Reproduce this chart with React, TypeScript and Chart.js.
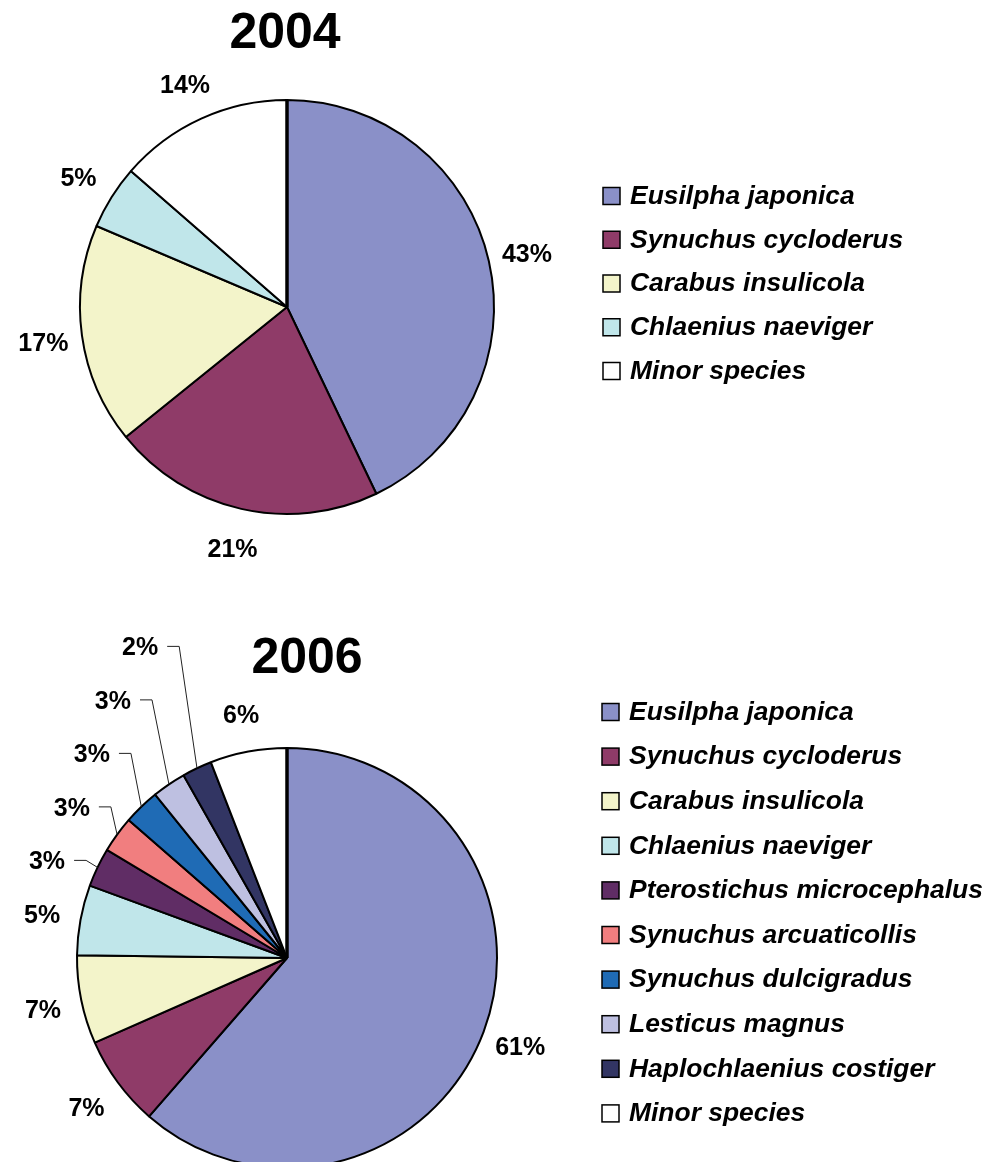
import React, { useEffect, useRef } from "react";
import { Chart, registerables } from "chart.js";

Chart.register(...registerables);

// ---------- data ----------
const title2004 = "2004";
const species2004 = [
  "Eusilpha japonica",
  "Synuchus cycloderus",
  "Carabus insulicola",
  "Chlaenius naeviger",
  "Minor species",
];
const values2004 = [42.9, 21.3, 17.2, 5.0, 13.6];
const colors2004 = ["#8A90C8", "#8F3B68", "#F3F4CA", "#C0E6EA", "#FFFFFF"];

const title2006 = "2006";
const species2006 = [
  "Eusilpha japonica",
  "Synuchus cycloderus",
  "Carabus insulicola",
  "Chlaenius naeviger",
  "Pterostichus microcephalus",
  "Synuchus arcuaticollis",
  "Synuchus dulcigradus",
  "Lesticus magnus",
  "Haplochlaenius costiger",
  "Minor species",
];
const values2006 = [61.4, 7.0, 6.8, 5.4, 3.0, 2.8, 2.8, 2.6, 2.3, 5.9];
const colors2006 = [
  "#8A90C8",
  "#8F3B68",
  "#F3F4CA",
  "#C0E6EA",
  "#602D65",
  "#F17E7F",
  "#1F6BB5",
  "#BEC0E1",
  "#323563",
  "#FFFFFF",
];

const FONT = "'Liberation Sans', Arial, Helvetica, sans-serif";

type DecorCfg = {
  title: string;
  titleX: number;
  titleY: number;
  legendX: number;
  legendY: number;
  legendStep: number;
  labelGap: number;
  leaderGap: number;
  leaderThreshold: number;
  stackStep: number;
};

function makeDecor(cfg: DecorCfg) {
  return {
    id: "pieDecor",
    afterDraw(chart: any) {
      const ctx: CanvasRenderingContext2D = chart.ctx;
      const meta = chart.getDatasetMeta(0);
      const ds = chart.data.datasets[0];
      const data = ds.data as number[];
      const colors = ds.backgroundColor as string[];
      const labels = chart.data.labels as string[];
      const total = data.reduce((a, b) => a + b, 0);
      ctx.save();

      // heavier radius line at the start of the first slice
      const first = meta.data[0].getProps(["x", "y", "startAngle", "outerRadius"], true);
      ctx.strokeStyle = "#000";
      ctx.lineWidth = 3.5;
      ctx.beginPath();
      ctx.moveTo(first.x, first.y);
      ctx.lineTo(
        first.x + Math.cos(first.startAngle) * first.outerRadius,
        first.y + Math.sin(first.startAngle) * first.outerRadius
      );
      ctx.stroke();

      // title
      ctx.fillStyle = "#000";
      ctx.textAlign = "center";
      ctx.textBaseline = "middle";
      ctx.font = `bold 50px ${FONT}`;
      ctx.fillText(cfg.title, cfg.titleX, cfg.titleY);

      // percentage labels
      ctx.font = `bold 25px ${FONT}`;
      let prevY: number | null = null;
      meta.data.forEach((arc: any, i: number) => {
        const p = arc.getProps(["x", "y", "startAngle", "endAngle", "outerRadius"], true);
        const mid = (p.startAngle + p.endAngle) / 2;
        const share = data[i] / total;
        const text = Math.round(share * 100) + "%";
        ctx.fillStyle = "#000";
        ctx.textAlign = "center";
        if (share >= cfg.leaderThreshold) {
          const r = p.outerRadius + cfg.labelGap;
          const lx = p.x + Math.cos(mid) * r;
          const ly = p.y + Math.sin(mid) * r + 3;
          ctx.fillText(text, lx, ly);
          prevY = ly;
        } else {
          const r = p.outerRadius + cfg.leaderGap;
          const nx = p.x + Math.cos(mid) * r;
          const ny = p.y + Math.sin(mid) * r;
          const ly = prevY === null ? ny : prevY - cfg.stackStep;
          prevY = ly;
          const rr = (ly - p.y) / Math.sin(mid);
          const rx = p.x + Math.cos(mid) * rr;
          const lx = Math.cos(mid) < 0 ? Math.min(nx, rx) : Math.max(nx, rx);
          ctx.fillText(text, lx, ly);
          const w = ctx.measureText(text).width;
          const sx = lx + w / 2 + 9;
          ctx.strokeStyle = "#222";
          ctx.lineWidth = 1;
          ctx.beginPath();
          ctx.moveTo(sx, ly - 2);
          ctx.lineTo(sx + 12, ly - 2);
          ctx.lineTo(p.x + Math.cos(mid) * p.outerRadius, p.y + Math.sin(mid) * p.outerRadius);
          ctx.stroke();
        }
      });

      // legend
      ctx.font = `italic bold 25px ${FONT}`;
      ctx.textAlign = "left";
      labels.forEach((lab, i) => {
        const cy = cfg.legendY + i * cfg.legendStep;
        ctx.fillStyle = colors[i];
        ctx.fillRect(cfg.legendX, cy - 8.5, 17, 17);
        ctx.strokeStyle = "#000";
        ctx.lineWidth = 1.5;
        ctx.strokeRect(cfg.legendX, cy - 8.5, 17, 17);
        ctx.fillStyle = "#000";
        ctx.save();
        ctx.translate(cfg.legendX + 27, cy + 1);
        ctx.scale(1.057, 1);
        ctx.fillText(lab, 0, 0);
        ctx.restore();
      });
      ctx.restore();
    },
  };
}

type PieProps = {
  labels: string[];
  values: number[];
  colors: string[];
  width: number;
  height: number;
  top: number;
  radius: number;
  padding: { left: number; right: number; top: number; bottom: number };
  decor: DecorCfg;
};

function PieCanvas(props: PieProps) {
  const ref = useRef<HTMLCanvasElement | null>(null);
  useEffect(() => {
    if (!ref.current) return;
    const chart = new Chart(ref.current, {
      type: "pie",
      data: {
        labels: props.labels,
        datasets: [
          {
            data: props.values,
            backgroundColor: props.colors,
            borderColor: "#000",
            borderWidth: 2,
            radius: props.radius,
          } as any,
        ],
      },
      options: {
        responsive: false,
        animation: false,
        events: [],
        layout: { padding: props.padding },
        plugins: {
          legend: { display: false },
          tooltip: { enabled: false },
          title: { display: false },
        },
      },
      plugins: [makeDecor(props.decor) as any],
    });
    return () => chart.destroy();
  }, []);
  return (
    <canvas
      ref={ref}
      width={props.width}
      height={props.height}
      style={{
        position: "absolute",
        left: 0,
        top: props.top,
        width: props.width,
        height: props.height,
      }}
    />
  );
}

export default function App() {
  return (
    <div
      style={{
        position: "absolute",
        left: 0,
        top: 0,
        width: 988,
        height: 1162,
        overflow: "hidden",
        background: "#fff",
      }}
    >
      <PieCanvas
        labels={species2004}
        values={values2004}
        colors={colors2004}
        width={988}
        height={580}
        top={0}
        radius={207}
        padding={{ left: 0, right: 414, top: 34, bottom: 0 }}
        decor={{
          title: title2004,
          titleX: 285,
          titleY: 34,
          legendX: 603,
          legendY: 196,
          legendStep: 43.75,
          labelGap: 39,
          leaderGap: 56,
          leaderThreshold: 0.04,
          stackStep: 53.5,
        }}
      />
      <PieCanvas
        labels={species2006}
        values={values2006}
        colors={colors2006}
        width={988}
        height={740}
        top={590}
        radius={210}
        padding={{ left: 0, right: 414, top: 0, bottom: 4 }}
        decor={{
          title: title2006,
          titleX: 307,
          titleY: 69,
          legendX: 602,
          legendY: 122,
          legendStep: 44.6,
          labelGap: 39,
          leaderGap: 56,
          leaderThreshold: 0.04,
          stackStep: 53.5,
        }}
      />
    </div>
  );
}
